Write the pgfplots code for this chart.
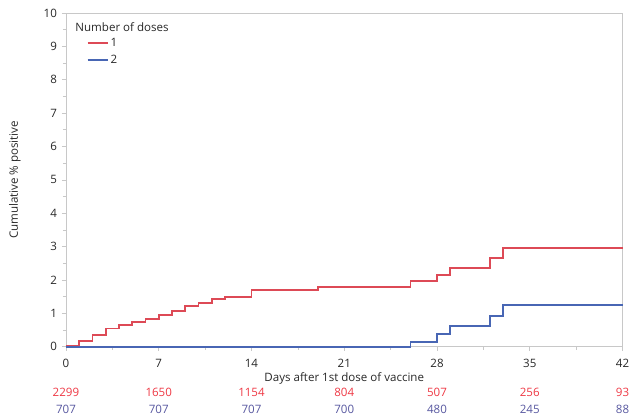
\documentclass[border=0pt]{standalone}
\usepackage{pgfplots}
\pgfplotsset{compat=1.18}
\usepackage{fontspec}
\setmainfont{Open Sans}
\definecolor{cred}{RGB}{221,74,86}
\definecolor{cblue}{RGB}{72,102,180}
\definecolor{tred}{RGB}{238,56,68}
\definecolor{tblue}{RGB}{88,88,160}
\definecolor{frame}{RGB}{200,200,200}
\definecolor{txt}{RGB}{40,40,40}
\newcommand\fs{\fontsize{11.6}{13}\selectfont}
\begin{document}
\fs
\begin{tikzpicture}[x=1bp,y=1bp]
\begin{axis}[
  name=ax,
  scale only axis,
  width=557bp, height=334bp,
  xmin=0, xmax=42, ymin=0, ymax=10,
  xtick={0,7,14,21,28,35,42},
  minor xtick={3.5,10.5,17.5,24.5,31.5,38.5},
  ytick={0,1,2,3,4,5,6,7,8,9,10},
  minor ytick={0.5,1.5,2.5,3.5,4.5,5.5,6.5,7.5,8.5,9.5},
  tick align=outside,
  major tick length=4bp, minor tick length=3bp,
  tick style={frame, line width=0.7pt},
  axis line style={frame, line width=0.9pt},
  xtick pos=bottom, ytick pos=left,
  /pgf/number format/assume math mode=true,
  ticklabel style={font=\fs, text=txt},
  xticklabel style={yshift=-4bp},
  yticklabel style={xshift=-1bp},
  clip=false,
  legend style={at={(axis description cs:0.037,0.932)}, anchor=north west, draw=none, fill=none,
    font=\fs, text=txt, row sep=3bp, inner sep=0pt},
  legend cell align=left,
  legend image code/.code={\draw[#1, line width=1.8bp] (0bp,0bp) -- (20bp,0bp);},
]
\addplot[cred, line width=1.8bp, const plot] coordinates {
(0,0.04) (1,0.17) (2,0.36) (3,0.545) (4,0.66) (5,0.73) (6,0.84) (7,0.94) (8,1.08) (9,1.21) (10,1.30) (11,1.43) (12,1.50) (14,1.69) (19,1.79) (26,1.96) (28,2.16) (29,2.36) (32,2.66) (33,2.97) (42,2.97)};
\addlegendentry{1}
\addplot[cblue, line width=1.8bp, const plot] coordinates {
(0,0) (26,0.14) (28,0.38) (29,0.61) (32,0.91) (33,1.24) (42,1.24)};
\addlegendentry{2}
\node[anchor=west, text=txt, inner sep=0pt] at ([xshift=9.3bp, yshift=-14.3bp]rel axis cs:0,1) {Number of doses};
\node[text=txt, inner sep=0pt] at ([yshift=-32bp]rel axis cs:0.5,0) {Days after 1st dose of vaccine};
\node[text=txt, inner sep=0pt, rotate=90] at ([xshift=-51bp]rel axis cs:0,0.5) {Cumulative \% positive};
\node[tred, inner sep=0pt] at ([yshift=-46bp]axis cs:0,0) {2299};
\node[tred, inner sep=0pt] at ([yshift=-46bp]axis cs:7,0) {1650};
\node[tred, inner sep=0pt] at ([yshift=-46bp]axis cs:14,0) {1154};
\node[tred, inner sep=0pt] at ([yshift=-46bp]axis cs:21,0) {804};
\node[tred, inner sep=0pt] at ([yshift=-46bp]axis cs:28,0) {507};
\node[tred, inner sep=0pt] at ([yshift=-46bp]axis cs:35,0) {256};
\node[tred, inner sep=0pt] at ([yshift=-46bp]axis cs:42,0) {93};
\node[tblue, inner sep=0pt] at ([yshift=-62.5bp]axis cs:0,0) {707};
\node[tblue, inner sep=0pt] at ([yshift=-62.5bp]axis cs:7,0) {707};
\node[tblue, inner sep=0pt] at ([yshift=-62.5bp]axis cs:14,0) {707};
\node[tblue, inner sep=0pt] at ([yshift=-62.5bp]axis cs:21,0) {700};
\node[tblue, inner sep=0pt] at ([yshift=-62.5bp]axis cs:28,0) {480};
\node[tblue, inner sep=0pt] at ([yshift=-62.5bp]axis cs:35,0) {245};
\node[tblue, inner sep=0pt] at ([yshift=-62.5bp]axis cs:42,0) {88};
\end{axis}
\useasboundingbox (ax.south west) ++(-66bp,-68bp) rectangle ++(633bp,415bp);
\end{tikzpicture}
\end{document}
